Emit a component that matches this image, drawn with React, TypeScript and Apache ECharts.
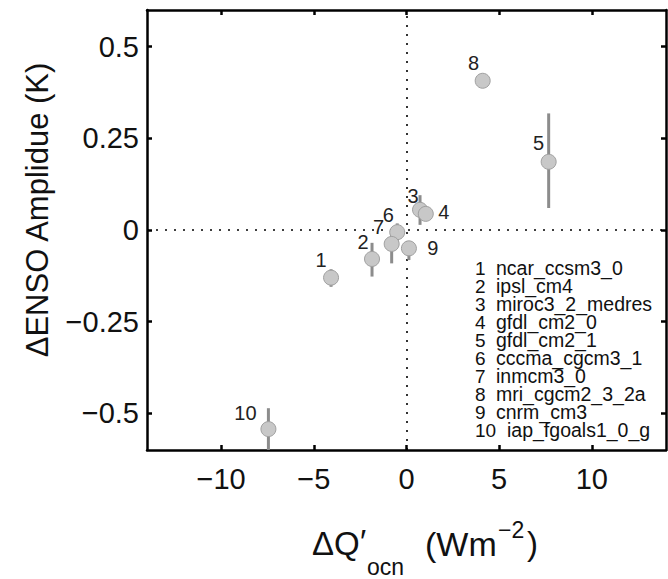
import React, { useEffect, useRef } from "react";
import * as echarts from "echarts";

const xTicks = [-10, -5, 0, 5, 10];
const yTicks = [-0.5, -0.25, 0, 0.25, 0.5];
const modelIds = [1, 2, 3, 4, 5, 6, 7, 8, 9, 10];
const modelNames = [
  "ncar_ccsm3_0",
  "ipsl_cm4",
  "miroc3_2_medres",
  "gfdl_cm2_0",
  "gfdl_cm2_1",
  "cccma_cgcm3_1",
  "inmcm3_0",
  "mri_cgcm2_3_2a",
  "cnrm_cm3",
  "iap_fgoals1_0_g",
];
const dQocn = [-4.07, -1.86, 0.73, 1.04, 7.67, -0.5, -0.8, 4.11, 0.13, -7.45];
const dEnso = [-0.13, -0.079, 0.055, 0.044, 0.186, -0.006, -0.038, 0.407, -0.05, -0.543];
const errLow = [-0.155, -0.127, 0.014, 0.03, 0.06, -0.032, -0.091, 0.407, -0.082, -0.6];
const errHigh = [-0.107, -0.035, 0.095, 0.058, 0.318, 0.018, 0.0, 0.407, -0.03, -0.486];

// label offsets (style)
const labelOffsets = [
  [-10, -18], [-9, -17], [-7, -14], [18, -2], [-10, -19],
  [-9, -17], [-13, -17], [-9, -18], [24, 0], [-23, -16],
];

const FONT = "'Liberation Sans', Arial, Helvetica, sans-serif";
const fmt = (v: number) => (v < 0 ? "\u2212" + String(-v) : String(v));

export default function App() {
  const ref = useRef<HTMLDivElement>(null);
  useEffect(() => {
    document.body.style.margin = "0";
    const chart = echarts.init(ref.current!, null, { renderer: "svg" });

    const axisLine = { show: true, onZero: false, lineStyle: { color: "#000", width: 2.5 } };
    const tickStyle = { inside: true, length: 5, lineStyle: { color: "#000", width: 2.5 } };

    const legendEls: any[] = [];
    modelIds.forEach((id, i) => {
      const y = 268 + i * 18;
      legendEls.push({
        type: "text", x: 475, y,
        style: { text: String(id), fontSize: 19, fontFamily: FONT, fill: "#111", verticalAlign: "middle", align: "left" },
      });
      legendEls.push({
        type: "text", x: id >= 10 ? 507 : 496, y,
        style: { text: modelNames[i], fontSize: 19.5, fontFamily: FONT, fill: "#111", verticalAlign: "middle", align: "left" },
      });
    });

    const xTitle = [
      { t: "\u0394Q", x: 312, y: 543.5, s: 33 },
      { t: "\u2032", x: 360, y: 541, s: 33 },
      { t: "ocn", x: 367, y: 567, s: 23 },
      { t: "(Wm", x: 425, y: 543.5, s: 34 },
      { t: "\u22122", x: 498, y: 530, s: 23 },
      { t: ")", x: 527, y: 543.5, s: 33 },
    ].map((p) => ({
      type: "text", x: p.x, y: p.y,
      style: { text: p.t, fontSize: p.s, fontFamily: FONT, fill: "#111", verticalAlign: "middle", align: "left" },
    }));

    const yTitle = {
      type: "text", x: 37, y: 210, rotation: Math.PI / 2,
      style: { text: "\u0394ENSO Amplidue (K)", fontSize: 31, fontFamily: FONT, fill: "#111", verticalAlign: "middle", align: "center" },
    };

    const option: any = {
      animation: false,
      grid: { left: 147, top: 10, right: 2, bottom: 129 },
      xAxis: [
        {
          type: "value", min: -14, max: 14, position: "bottom",
          axisLine, splitLine: { show: false },
          axisTick: { ...tickStyle, customValues: xTicks },
          axisLabel: { customValues: xTicks, formatter: fmt, fontSize: 29, fontFamily: FONT, color: "#111", margin: 14 },
        },
        {
          type: "value", min: -14, max: 14, position: "top",
          axisLine, splitLine: { show: false },
          axisTick: { ...tickStyle, customValues: xTicks },
          axisLabel: { show: false },
        },
      ],
      yAxis: [
        {
          type: "value", min: -0.6, max: 0.6, position: "left",
          axisLine, splitLine: { show: false },
          axisTick: { ...tickStyle, customValues: yTicks },
          axisLabel: { customValues: yTicks, formatter: fmt, fontSize: 29, fontFamily: FONT, color: "#111", margin: 8 },
        },
        {
          type: "value", min: -0.6, max: 0.6, position: "right",
          axisLine, splitLine: { show: false },
          axisTick: { ...tickStyle, customValues: yTicks },
          axisLabel: { show: false },
        },
      ],
      graphic: [...legendEls, ...xTitle, yTitle],
      series: [
        {
          type: "custom",
          z: 2,
          clip: true,
          data: dQocn.map((x, i) => [x, errLow[i], errHigh[i]]),
          encode: { x: 0, y: [1, 2] },
          renderItem: (params: any, api: any) => {
            const p1 = api.coord([api.value(0), api.value(1)]);
            const p2 = api.coord([api.value(0), api.value(2)]);
            return {
              type: "line",
              shape: { x1: p1[0], y1: p1[1], x2: p2[0], y2: p2[1] },
              style: { stroke: "#8c8c8c", lineWidth: 3 },
            };
          },
          markLine: {
            silent: true, symbol: "none", z: 1, animation: false,
            label: { show: false },
            lineStyle: { color: "#000", type: [2, 7], width: 1.6 },
            data: [{ xAxis: 0 }, { yAxis: 0 }],
          },
        },
        {
          type: "scatter",
          z: 3,
          symbolSize: 15,
          itemStyle: { color: "#c8c8c8", borderColor: "#a0a0a0", borderWidth: 1, opacity: 1 },
          data: dQocn.map((x, i) => ({
            value: [x, dEnso[i]],
            label: {
              show: true, position: "inside", offset: labelOffsets[i],
              formatter: String(modelIds[i]), fontSize: 20, fontFamily: FONT, color: "#222",
            },
          })),
        },
      ],
    };
    chart.setOption(option);
    return () => chart.dispose();
  }, []);
  return <div ref={ref} style={{ width: 668, height: 579 }} />;
}
